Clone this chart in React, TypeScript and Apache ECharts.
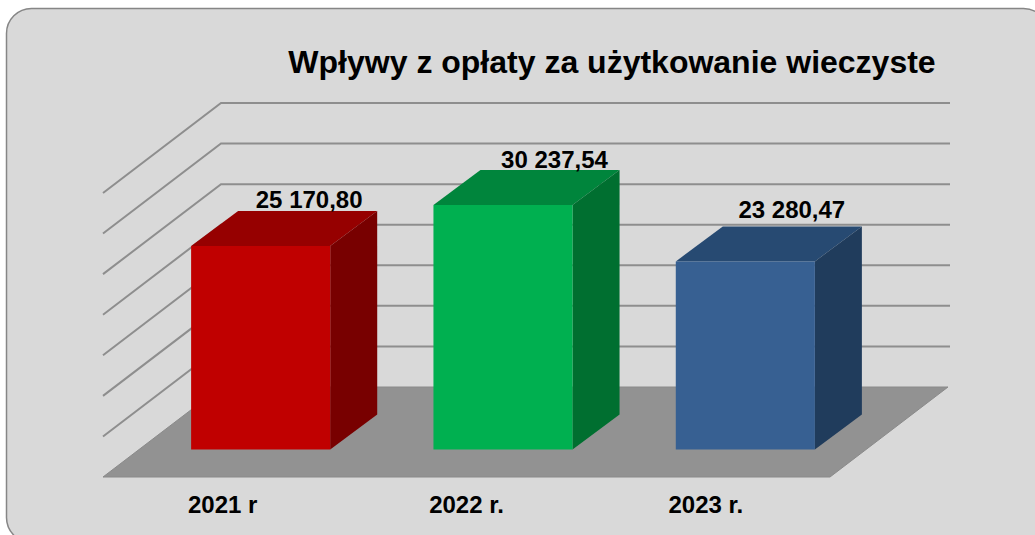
import React, { useEffect, useRef } from "react";
import * as echarts from "echarts";

const titleText = "Wpływy z opłaty za użytkowanie wieczyste";
const categories = ["2021 r", "2022 r.", "2023 r."];
const values = [25170.8, 30237.54, 23280.47];
const valueLabels = ["25 170,80", "30 237,54", "23 280,47"];
const wallTicks = [0, 5000, 10000, 15000, 20000, 25000, 30000, 35000];

const faceColors = ["#C00000", "#00B050", "#376092"];
const topColors = ["#960000", "#00853C", "#274A72"];
const sideColors = ["#780000", "#006F30", "#203C5C"];

const labelNudgeX = [0, 3, -2];
const labelNudgeY = [0, 1, -5];
const categoryPadRight = [3, 0, 6];

const FONT = '"Liberation Sans", Arial, sans-serif';
const WALL_DX = 118;
const WALL_DY = -90;
const BAR_FRONT_DX = 36.5;
const BAR_FRONT_DY = -27.5;
const BAR_TOP_INSET = 0.8;
const BAR_DX = 47;
const BAR_DY = -35;
const BAR_RATIO = 0.574;
const LINE = "#8E8E8E";

function renderWall(params: any, api: any) {
  const cs = params.coordSys;
  const tick = api.value(1);
  const y = api.coord([0, tick])[1];
  const l = cs.x;
  const r = cs.x + cs.width;
  const children: any[] = [];
  if (tick === 0) {
    children.push({
      type: "polygon",
      shape: {
        points: [
          [l, y],
          [r, y],
          [r + WALL_DX, y + WALL_DY],
          [l + WALL_DX, y + WALL_DY],
        ],
      },
      style: { fill: "#929292", stroke: "#8A8A8A", lineWidth: 1 },
    });
  } else {
    children.push({
      type: "polyline",
      shape: {
        points: [
          [l, y],
          [l + WALL_DX, y + WALL_DY],
          [r + WALL_DX + 2, y + WALL_DY],
        ],
      },
      style: { fill: "none", stroke: LINE, lineWidth: 2 },
    });
  }
  return { type: "group", children };
}

function renderBar(params: any, api: any) {
  const i = params.dataIndex;
  const base = api.coord([api.value(0), 0]);
  const top = api.coord([api.value(0), api.value(1)]);
  const w = api.size([1, 0])[0] * BAR_RATIO;
  const x0 = base[0] + BAR_FRONT_DX - w / 2;
  const x1 = x0 + w;
  const yb = base[1] + BAR_FRONT_DY;
  const yt = top[1] + BAR_FRONT_DY + BAR_TOP_INSET;
  return {
    type: "group",
    children: [
      {
        type: "polygon",
        shape: { points: [[x0, yt], [x1, yt], [x1 + BAR_DX, yt + BAR_DY], [x0 + BAR_DX, yt + BAR_DY]] },
        style: { fill: topColors[i] },
      },
      {
        type: "polygon",
        shape: { points: [[x1, yb], [x1, yt], [x1 + BAR_DX, yt + BAR_DY], [x1 + BAR_DX, yb + BAR_DY]] },
        style: { fill: sideColors[i] },
      },
      {
        type: "polygon",
        shape: { points: [[x0, yb], [x1, yb], [x1, yt], [x0, yt]] },
        style: { fill: faceColors[i] },
      },
      {
        type: "text",
        style: {
          x: (x0 + x1) / 2 + 48.5 + labelNudgeX[i],
          y: yt - 46.5 + labelNudgeY[i],
          text: valueLabels[i],
          fill: "#000",
          font: `bold 24px ${FONT}`,
          align: "center",
          verticalAlign: "middle",
        },
      },
    ],
  };
}

export default function App() {
  const ref = useRef<HTMLDivElement>(null);
  useEffect(() => {
    document.body.style.margin = "0";
    document.body.style.overflow = "hidden";
    const chart = echarts.init(ref.current!, null, { renderer: "svg" });
    chart.setOption({
      animation: false,
      tooltip: { show: false },
      title: {
        text: titleText,
        left: 607,
        top: 41,
        textAlign: "center",
        textStyle: { fontFamily: FONT, fontWeight: "bold", fontSize: 32, color: "#000" },
      },
      graphic: [
        {
          type: "rect",
          z: -10,
          silent: true,
          shape: { x: 6.5, y: 8.5, width: 1042, height: 534, r: 25 },
          style: { fill: "#D9D9D9", stroke: "#868686", lineWidth: 1.5 },
        },
      ],
      grid: { left: 103, top: 193, width: 727, height: 284 },
      xAxis: {
        type: "category",
        data: categories.map((value, i) => ({
          value,
          textStyle: { padding: [0, categoryPadRight[i], 0, 0] },
        })),
        axisLine: { show: false },
        axisTick: { show: false },
        axisLabel: {
          margin: 15,
          fontFamily: FONT,
          fontWeight: "bold",
          fontSize: 24,
          color: "#000",
        },
      },
      yAxis: { type: "value", min: 0, max: 35000, interval: 5000, show: false },
      series: [
        {
          type: "custom",
          silent: true,
          clip: false,
          z: 1,
          renderItem: renderWall,
          encode: { x: 0, y: 1 },
          data: wallTicks.map((t) => [0, t]),
        },
        {
          type: "custom",
          silent: true,
          clip: false,
          z: 2,
          renderItem: renderBar,
          encode: { x: 0, y: 1 },
          data: values.map((v, i) => [i, v]),
        },
      ],
    });
    return () => chart.dispose();
  }, []);
  return <div ref={ref} style={{ position: "absolute", left: 0, top: 0, width: 1035, height: 535 }} />;
}
